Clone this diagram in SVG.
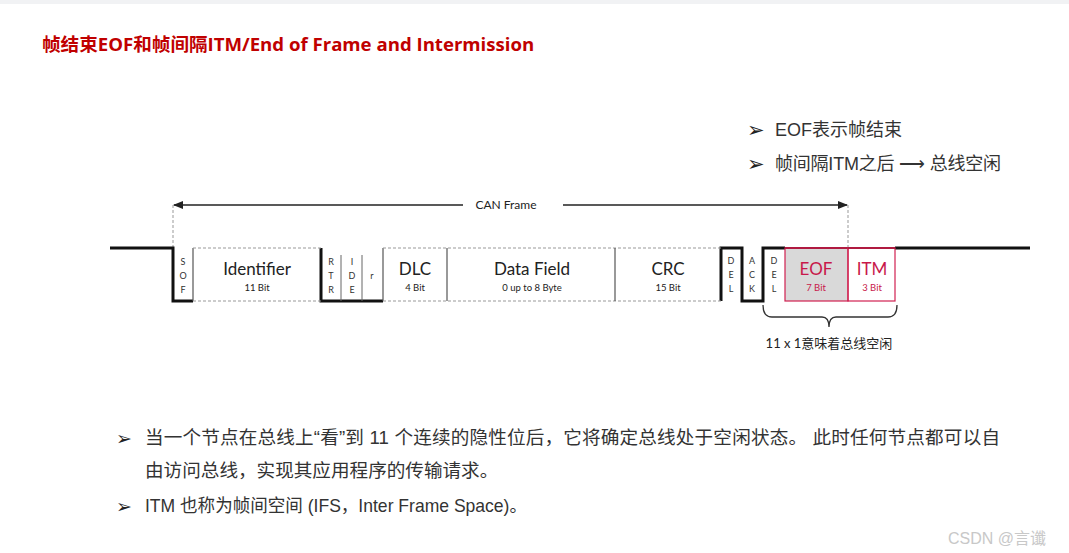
<svg xmlns="http://www.w3.org/2000/svg" width="1069" height="553" viewBox="0 0 1069 553">
<style>
.lbl{font-family:Lato,"Noto Sans CJK SC",sans-serif;fill:#222;text-anchor:middle}
.big{font-size:17px}
.sm{font-size:9.5px}
.vt{font-family:Lato,sans-serif;font-size:9px;fill:#333;text-anchor:middle}
.red{fill:#c8184a}
.bus{stroke:#111;stroke-width:3;fill:none}
.dash{stroke:#999;stroke-width:1;stroke-dasharray:3,2;fill:none}
.div{stroke:#555;stroke-width:1.2}
.txt{font-family:"Liberation Sans","Noto Sans CJK SC",sans-serif;fill:#333}
.blt{font-family:"DejaVu Sans",sans-serif;fill:#222}
</style>
<defs>
<marker id="ah" markerWidth="10" markerHeight="8" refX="9" refY="4" orient="auto" markerUnits="userSpaceOnUse">
<path d="M0,0 L10,4 L0,8 z" fill="#222"/>
</marker>
</defs>
<rect x="0" y="0" width="1069" height="553" fill="#fff"/>
<rect x="0" y="0" width="1069" height="4" fill="#f1f2f4"/>
<text id="title" x="42" y="51" font-family="'Open Sans','Noto Sans CJK SC',sans-serif" font-weight="bold" font-size="18.6" fill="#c00000">帧结束EOF和帧间隔ITM/End of Frame and Intermission</text>

<g id="notes-top" class="txt" font-size="18">
<text x="747" y="137" class="blt" font-size="21">➢</text>
<text x="775" y="136">EOF表示帧结束</text>
<text x="747" y="171" class="blt" font-size="21">➢</text>
<text x="775" y="170" textLength="226" lengthAdjust="spacing">帧间隔ITM之后 ⟶ 总线空闲</text>
</g>

<g id="connectors">
<line x1="173" y1="205" x2="173" y2="248" class="dash"/>
<line x1="848" y1="205" x2="848" y2="248" class="dash"/>
<line x1="463" y1="205" x2="174" y2="205" stroke="#222" stroke-width="1.5" marker-end="url(#ah)"/>
<line x1="563" y1="205" x2="847" y2="205" stroke="#222" stroke-width="1.5" marker-end="url(#ah)"/>
<text x="506" y="209" class="lbl" font-size="12">CAN Frame</text>
</g>

<g id="bus">
<polyline class="bus" points="110,248 173,248 173,301 193,301"/>
<polyline class="bus" points="321,248 321,301 383,301"/>
<polyline class="bus" points="721,301 721,248 742,248 742,301 763,301 763,248 785,248"/>
<polyline class="bus" points="895,248 1030,248"/>
</g>

<g id="SOF">
<line x1="193" y1="248" x2="193" y2="301" class="div"/>
<text x="183" y="265" class="vt">S</text>
<text x="183" y="279" class="vt">O</text>
<text x="183" y="293" class="vt">F</text>
</g>
<g id="Identifier">
<line x1="193" y1="248" x2="321" y2="248" class="dash"/>
<line x1="193" y1="301" x2="321" y2="301" class="dash"/>
<text x="257" y="275" class="lbl big">Identifier</text>
<text x="257" y="291" class="lbl sm">11 Bit</text>
</g>
<g id="RTR">
<line x1="341" y1="255" x2="341" y2="301" stroke="#666" stroke-width="1"/>
<text x="331" y="265" class="vt">R</text>
<text x="331" y="279" class="vt">T</text>
<text x="331" y="293" class="vt">R</text>
</g>
<g id="IDE">
<line x1="362" y1="255" x2="362" y2="301" stroke="#666" stroke-width="1"/>
<text x="352" y="265" class="vt">I</text>
<text x="352" y="279" class="vt">D</text>
<text x="352" y="293" class="vt">E</text>
</g>
<g id="r">
<line x1="383" y1="248" x2="383" y2="301" class="div"/>
<text x="372" y="279" class="vt">r</text>
</g>
<g id="DLC">
<line x1="383" y1="248" x2="721" y2="248" class="dash"/>
<line x1="383" y1="301" x2="721" y2="301" class="dash"/>
<line x1="447" y1="248" x2="447" y2="301" class="div"/>
<text x="415" y="275" class="lbl big">DLC</text>
<text x="415" y="291" class="lbl sm">4 Bit</text>
</g>
<g id="DataField">
<line x1="615" y1="248" x2="615" y2="301" class="div"/>
<text x="532" y="275" class="lbl big">Data Field</text>
<text x="532" y="291" class="lbl sm">0 up to 8 Byte</text>
</g>
<g id="CRC">
<text x="668" y="275" class="lbl big">CRC</text>
<text x="668" y="291" class="lbl sm">15 Bit</text>
</g>
<g id="CRCDEL">
<text x="731" y="264" class="vt">D</text>
<text x="731" y="278" class="vt">E</text>
<text x="731" y="292" class="vt">L</text>
</g>
<g id="ACK">
<text x="752" y="264" class="vt">A</text>
<text x="752" y="278" class="vt">C</text>
<text x="752" y="292" class="vt">K</text>
</g>
<g id="ACKDEL">
<text x="774" y="264" class="vt">D</text>
<text x="774" y="278" class="vt">E</text>
<text x="774" y="292" class="vt">L</text>
</g>
<g id="EOF">
<rect x="785" y="248" width="63" height="53" fill="#d9d9d9" stroke="#d02050" stroke-width="1.2"/>
<line x1="785" y1="248" x2="848" y2="248" stroke="#b01a40" stroke-width="2"/>
<text x="816" y="275" class="lbl big red">EOF</text>
<text x="816" y="291" class="lbl sm red">7 Bit</text>
</g>
<g id="ITM">
<rect x="848" y="248" width="47" height="53" fill="none" stroke="#d02050" stroke-width="1.2"/>
<line x1="848" y1="248" x2="895" y2="248" stroke="#b01a40" stroke-width="2"/>
<text x="872" y="275" class="lbl big red">ITM</text>
<text x="872" y="291" class="lbl sm red">3 Bit</text>
</g>
<g id="brace">
<path d="M763,305 Q763,317 772,317 L822,317 Q829,317 829,327 Q829,317 836,317 L888,317 Q897,317 897,305" fill="none" stroke="#333" stroke-width="1.3"/>
<text x="829" y="348" class="lbl" font-size="13" font-family="Lato,'Noto Sans CJK SC',sans-serif">11 x 1意味着总线空闲</text>
</g>

<g id="notes-bottom" class="txt" font-size="18.6">
<text x="116" y="445" class="blt" font-size="19">➢</text>
<text x="145" y="444" textLength="855" lengthAdjust="spacing">当一个节点在总线上“看”到 11 个连续的隐性位后，它将确定总线处于空闲状态。 此时任何节点都可以自</text>
<text x="145" y="477">由访问总线，实现其应用程序的传输请求。</text>
<text x="116" y="513" class="blt" font-size="19">➢</text>
<text x="145" y="512" textLength="382" lengthAdjust="spacingAndGlyphs">ITM 也称为帧间空间 (IFS，Inter Frame Space)。</text>
</g>
<text x="948" y="544" font-family="'Liberation Sans','Noto Sans CJK SC',sans-serif" font-size="16" fill="#c8c8c8">CSDN @言谶</text>
</svg>
